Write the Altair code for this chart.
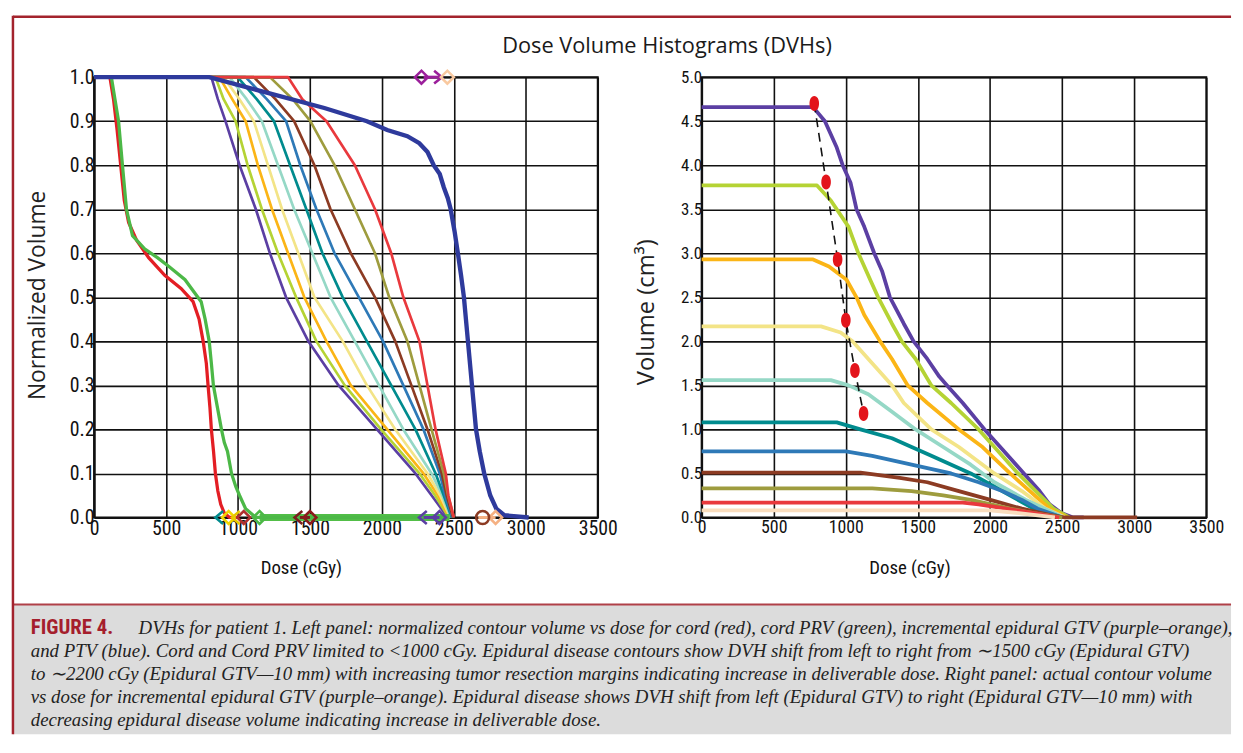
import altair as alt
import pandas as pd

# ---------------- data ----------------
gtv_names = ["Epidural GTV", "GTV−1 mm", "GTV−2 mm", "GTV−3 mm", "GTV−4 mm", "GTV−5 mm",
             "GTV−6 mm", "GTV−7 mm", "GTV−8 mm", "GTV−9 mm", "GTV−10 mm"]
gtv_colors = ["#5B3FA3", "#B5D334", "#FBB516", "#F3E487", "#95D8C6", "#008B8E",
              "#2E79B7", "#8C3B23", "#9E9C3E", "#E9393D", "#F9DDBE"]

# Left panel: normalized volume levels shared by the GTV curves
left_levels = [1.0, 1.0, 0.95, 0.9, 0.8, 0.7, 0.6, 0.5, 0.4, 0.3, 0.2, 0.1, 0.05, 0.0]
left_purple = [0, 815, 860, 913, 1011, 1124, 1222, 1334, 1489, 1699, 1966, 2233, 2346, 2458]
left_yellowgreen = [0, 843, 900, 983, 1067, 1166, 1278, 1404, 1545, 1742, 1994, 2261, 2370, 2465]
left_gold = [0, 871, 960, 1053, 1138, 1236, 1348, 1461, 1615, 1784, 2037, 2289, 2390, 2470]
left_paleyellow = [0, 899, 1010, 1110, 1208, 1306, 1419, 1531, 1728, 1896, 2093, 2317, 2405, 2475]
left_aqua = [0, 941, 1060, 1166, 1278, 1390, 1517, 1643, 1812, 1980, 2149, 2345, 2420, 2480]
left_teal = [0, 997, 1130, 1250, 1362, 1475, 1587, 1728, 1896, 2065, 2233, 2373, 2430, 2485]
left_steel = [0, 1053, 1200, 1334, 1433, 1545, 1671, 1840, 2008, 2149, 2289, 2402, 2440, 2490]
left_brown = [0, 1110, 1260, 1390, 1531, 1643, 1784, 1952, 2093, 2205, 2317, 2416, 2450, 2495]
left_olive = [0, 1222, 1380, 1503, 1671, 1812, 1952, 2051, 2177, 2261, 2345, 2430, 2460, 2500]
left_red = [0, 1348, 1447, 1615, 1812, 1952, 2065, 2149, 2261, 2317, 2373, 2444, 2462, 2500]

cord_dose = [0, 110, 135, 160, 185, 210, 240, 295, 379, 491, 604, 688, 730, 758, 780, 792,
             805, 815, 830, 843, 860, 880, 905, 941, 1000]
cord_vol = [1.0, 1.0, 0.95, 0.88, 0.8, 0.72, 0.67, 0.63, 0.59, 0.55, 0.52, 0.49, 0.45, 0.4,
            0.35, 0.3, 0.25, 0.2, 0.15, 0.1, 0.06, 0.03, 0.01, 0.0, 0.0]
prv_dose = [0, 120, 145, 170, 197, 225, 267, 351, 440, 520, 632, 744, 772, 800, 815, 829,
            857, 885, 905, 927, 955, 985, 1011, 1053, 1124, 2470]
prv_vol = [1.0, 1.0, 0.95, 0.9, 0.8, 0.7, 0.64, 0.61, 0.59, 0.57, 0.54, 0.49, 0.45, 0.4,
           0.35, 0.3, 0.25, 0.2, 0.17, 0.15, 0.1, 0.07, 0.05, 0.02, 0.0, 0.0]
ptv_dose = [0, 800, 1200, 1600, 1896, 2037, 2177, 2260, 2317, 2360, 2402, 2430, 2458, 2478,
            2505, 2528, 2550, 2570, 2584, 2598, 2626, 2654, 2680, 2711, 2753, 2795, 2851, 3020]
ptv_vol = [1.0, 1.0, 0.965, 0.93, 0.9, 0.88, 0.866, 0.85, 0.83, 0.8, 0.78, 0.75, 0.725, 0.7,
           0.65, 0.6, 0.55, 0.5, 0.45, 0.4, 0.3, 0.2, 0.15, 0.1, 0.05, 0.02, 0.005, 0.0]

# thick PRV band along zero and marker symbols on the left panel
band_start = [1150]
band_end = [2470]
shaft_start = [1430, 2290, 2290, 2670]
shaft_end = [1500, 2400, 2400, 2790]
shaft_vol = [0.0, 0.0, 1.0, 0.0]
shaft_color = ["#7A1E1E", "#5B3FA3", "#9B1F9B", "#F5B183"]
marker_dose = [870, 935, 985, 1040, 1150, 1420, 1500, 2285, 2400, 2790, 2700,
               2275, 2390, 2455]
marker_vol = [0.0, 0.0, 0.0, 0.0, 0.0, 0.0, 0.0, 0.0, 0.0, 0.0, 0.0, 1.0, 1.0, 1.0]
marker_shape = ["chev", "diamond", "chev", "diamond", "diamond", "chev", "diamond", "chev",
                "diamond", "diamond", "circle", "diamond", "chevr", "diamond"]
marker_color = ["#008B8E", "#F2D600", "#E8C800", "#B03030", "#4CB847", "#7A1E1E", "#8B1A1A",
                "#5B3FA3", "#5B3FA3", "#F5B183", "#8C3B23", "#9B1F9B", "#9B1F9B", "#F9C9A0"]

# Right panel: actual volume (cm3)
r_purple_dose = [0, 773, 855, 937, 978, 1033, 1074, 1128, 1197, 1251, 1306, 1402, 1470, 1565,
                 1648, 1702, 1811, 1962, 2071, 2235, 2344, 2413, 2495, 2576, 2650]
r_purple_vol = [4.66, 4.66, 4.5, 4.2, 4.0, 3.8, 3.5, 3.3, 3.0, 2.8, 2.5, 2.2, 2.0, 1.8, 1.6,
                1.5, 1.3, 1.0, 0.8, 0.5, 0.3, 0.15, 0.05, 0.0, 0.0]
r_yellowgreen_dose = [0, 800, 896, 1019, 1087, 1169, 1224, 1320, 1388, 1484, 1593, 1730, 1921,
                      2030, 2194, 2317, 2440, 2549]
r_yellowgreen_vol = [3.77, 3.77, 3.6, 3.3, 3.0, 2.7, 2.5, 2.2, 2.0, 1.8, 1.5, 1.3, 1.0, 0.8,
                     0.5, 0.3, 0.1, 0.0]
r_gold_dose = [0, 773, 883, 1005, 1074, 1128, 1238, 1320, 1429, 1565, 1784, 1948, 2139, 2276,
               2413, 2530]
r_gold_vol = [2.93, 2.93, 2.85, 2.7, 2.5, 2.3, 2.0, 1.8, 1.5, 1.3, 1.0, 0.8, 0.5, 0.3, 0.1, 0.0]
r_paleyellow_dose = [0, 828, 964, 1046, 1156, 1265, 1320, 1402, 1593, 1784, 2030, 2221, 2385, 2520]
r_paleyellow_vol = [2.17, 2.17, 2.1, 2.0, 1.8, 1.6, 1.5, 1.3, 1.0, 0.8, 0.5, 0.3, 0.1, 0.0]
r_aqua_dose = [0, 896, 1019, 1156, 1320, 1484, 1675, 1866, 2030, 2249, 2510]
r_aqua_vol = [1.56, 1.56, 1.5, 1.4, 1.2, 1.0, 0.8, 0.6, 0.4, 0.2, 0.0]
r_teal_dose = [0, 937, 1101, 1320, 1456, 1593, 1866, 2085, 2303, 2500]
r_teal_vol = [1.08, 1.08, 1.0, 0.9, 0.8, 0.7, 0.5, 0.3, 0.1, 0.0]
r_steel_dose = [0, 1000, 1183, 1456, 1730, 1921, 2085, 2221, 2331, 2500]
r_steel_vol = [0.75, 0.75, 0.7, 0.6, 0.5, 0.4, 0.3, 0.2, 0.1, 0.0]
r_brown_dose = [0, 1101, 1374, 1565, 1784, 2003, 2221, 2413, 2520, 3020]
r_brown_vol = [0.51, 0.51, 0.45, 0.4, 0.3, 0.2, 0.1, 0.03, 0.0, 0.0]
r_olive_dose = [0, 1183, 1456, 1675, 1866, 2139, 2303, 2500]
r_olive_vol = [0.33, 0.33, 0.3, 0.25, 0.2, 0.1, 0.05, 0.0]
r_red_dose = [0, 1811, 1921, 2112, 2303, 2480]
r_red_vol = [0.17, 0.17, 0.15, 0.1, 0.05, 0.0]
r_peach_dose = [0, 2000, 2200, 2450]
r_peach_vol = [0.08, 0.08, 0.05, 0.0]

dot_dose = [781, 863, 943, 1000, 1063, 1123]
dot_vol = [4.70, 3.81, 2.93, 2.24, 1.67, 1.18]

title_text = "Dose Volume Histograms (DVHs)"
caption_label = "FIGURE 4."
caption_first = ("DVHs for patient 1. Left panel: normalized contour volume vs dose for cord (red), "
                 "cord PRV (green), incremental epidural GTV (purple–orange),")
caption_rest = [
    "and PTV (blue). Cord and Cord PRV limited to <1000 cGy. Epidural disease contours show DVH shift from left to right from ∼1500 cGy (Epidural GTV)",
    "to ∼2200 cGy (Epidural GTV—10 mm) with increasing tumor resection margins indicating increase in deliverable dose. Right panel: actual contour volume",
    "vs dose for incremental epidural GTV (purple–orange). Epidural disease shows DVH shift from left (Epidural GTV) to right (Epidural GTV—10 mm) with",
    "decreasing epidural disease volume indicating increase in deliverable dose.",
]

# ---------------- helpers ----------------
def long_df(names, doses, vols):
    rows = []
    for n, d, v in zip(names, doses, vols):
        for i, (x, y) in enumerate(zip(d, v)):
            rows.append({"series": n, "dose": x, "vol": y, "i": i})
    return pd.DataFrame(rows)

NARROW = "Liberation Sans Narrow, Arial Narrow, Roboto Condensed, Liberation Sans, sans-serif"
HUMAN = "Open Sans, Lato, sans-serif"
RED = "#A3232D"

dose_ticks = [0, 500, 1000, 1500, 2000, 2500, 3000, 3500]


def x_enc(label_size, title_x, title_y):
    return alt.X("dose:Q", scale=alt.Scale(domain=[0, 3500], nice=False),
                 axis=alt.Axis(values=dose_ticks, format="d", title="Dose (cGy)", grid=True,
                               gridColor="#111111", gridWidth=1.6, domainColor="#111111",
                               domainWidth=2, ticks=False, labelFont=NARROW,
                               labelFontSize=label_size, labelColor="#111111", labelPadding=1,
                               labelFlush=False, titleFont=NARROW, titleFontSize=19,
                               titleFontWeight="normal", titleColor="#111111",
                               titleX=title_x, titleY=title_y, titleBaseline="middle"))


def y_enc(field, domain, values, title, label_size, title_size, title_x, title_y):
    return alt.Y(field, scale=alt.Scale(domain=domain, nice=False),
                 axis=alt.Axis(values=values, format=".1f", title=title, grid=True,
                               gridColor="#111111", gridWidth=1.6, domainColor="#111111",
                               domainWidth=2, ticks=False, labelFont=NARROW,
                               labelFontSize=label_size, labelColor="#111111", labelPadding=0,
                               labelFlush=False, titleFont=HUMAN, titleFontSize=title_size,
                               titleFontWeight="normal", titleColor="#222222",
                               titleX=title_x, titleY=title_y, titleAngle=270,
                               titleBaseline="middle", titleAlign="center"))


# ---------------- left panel ----------------
LX = x_enc(20, 209, 51)
LY = y_enc("vol:Q", [0, 1], [round(k * 0.1, 1) for k in range(11)],
           "Normalized Volume", 20, 23, -57, 220)

left_gtv = [left_purple, left_yellowgreen, left_gold, left_paleyellow, left_aqua,
            left_teal, left_steel, left_brown, left_olive, left_red]
gtv_left_df = long_df(gtv_names[:10], left_gtv, [left_levels] * 10)

gtv_left = alt.Chart(gtv_left_df).mark_line(strokeWidth=2.7, strokeJoin="round").encode(
    x=LX, y=LY,
    color=alt.Color("series:N", scale=alt.Scale(domain=gtv_names, range=gtv_colors), legend=None),
    order=alt.Order("i:Q"),
)
cord = alt.Chart(long_df(["Cord"], [cord_dose], [cord_vol])).mark_line(
    strokeWidth=3.3, color="#E31E24").encode(x=LX, y=LY, order=alt.Order("i:Q"))
prv = alt.Chart(long_df(["Cord PRV"], [prv_dose], [prv_vol])).mark_line(
    strokeWidth=3.3, color="#4CB847").encode(x=LX, y=LY, order=alt.Order("i:Q"))
ptv = alt.Chart(long_df(["PTV"], [ptv_dose], [ptv_vol])).mark_line(
    strokeWidth=4.4, color="#2E3A9C").encode(x=LX, y=LY, order=alt.Order("i:Q"))

band = alt.Chart(pd.DataFrame({"s": band_start, "e": band_end, "v": [0.0]})).mark_rule(
    strokeWidth=7, color="#52BE48").encode(x=alt.X("s:Q"), x2="e:Q", y=alt.Y("v:Q"))
shafts = alt.Chart(pd.DataFrame({"s": shaft_start, "e": shaft_end, "v": shaft_vol,
                                 "c": shaft_color})).mark_rule(strokeWidth=3).encode(
    x=alt.X("s:Q"), x2="e:Q", y=alt.Y("v:Q"),
    color=alt.Color("c:N", scale=None, legend=None))

chev = "M0.6,-1 L-0.6,0 L0.6,1"
chevr = "M-0.6,-1 L0.6,0 L-0.6,1"
shape_map = {"chev": chev, "chevr": chevr, "diamond": "diamond", "circle": "circle"}
markers_df = pd.DataFrame({"dose": marker_dose, "vol": marker_vol,
                           "shape": [shape_map[s] for s in marker_shape],
                           "c": marker_color})
markers = alt.Chart(markers_df).mark_point(filled=False, strokeWidth=2.6, size=170,
                                           opacity=1).encode(
    x=alt.X("dose:Q"), y=alt.Y("vol:Q"),
    shape=alt.Shape("shape:N", scale=None, legend=None),
    color=alt.Color("c:N", scale=None, legend=None),
)

# decoration: frame, figure title and caption (outside the plot area)
one = pd.DataFrame({"k": [0]})
cap_box = alt.Chart(one).mark_rect(fill="#DCDCDC").encode(
    x=alt.value(-82), x2=alt.value(1149), y=alt.value(533), y2=alt.value(664))
frame_top = alt.Chart(one).mark_rule(color=RED, strokeWidth=2.5).encode(
    x=alt.value(-82), x2=alt.value(1149), y=alt.value(-61))
frame_mid = alt.Chart(one).mark_rule(color="#B04048", strokeWidth=2).encode(
    x=alt.value(-82), x2=alt.value(1149), y=alt.value(533))
frame_left = alt.Chart(one).mark_rule(color=RED, strokeWidth=2.5).encode(
    x=alt.value(-82), y=alt.value(-62), y2=alt.value(664))
title = alt.Chart(one).mark_text(text=title_text, font=HUMAN, fontSize=22, color="#1a1a1a",
                                 align="center", baseline="middle").encode(
    x=alt.value(579), y=alt.value(-31))
cap_label = alt.Chart(one).mark_text(text=caption_label, font=NARROW, fontSize=21,
                                     fontWeight="bold", color="#A51E2D", align="left",
                                     baseline="alphabetic").encode(
    x=alt.value(-64), y=alt.value(563))
cap_first = alt.Chart(one).mark_text(text=caption_first, font="Liberation Serif",
                                     fontStyle="italic", fontSize=19, color="#222222",
                                     align="left", baseline="alphabetic").encode(
    x=alt.value(45), y=alt.value(563))
cap_rest = alt.Chart(one).mark_text(text="\n".join(caption_rest), lineBreak="\n",
                                    lineHeight=23.2, font="Liberation Serif",
                                    fontStyle="italic", fontSize=19, color="#222222",
                                    align="left", baseline="alphabetic").encode(
    x=alt.value(-64), y=alt.value(586))

left = alt.layer(cap_box, frame_top, frame_mid, frame_left, title, cap_label, cap_first,
                 cap_rest, gtv_left, cord, band, prv, ptv, shafts, markers).resolve_scale(
    color="independent", shape="independent").properties(width=509, height=445)

# ---------------- right panel ----------------
RX = x_enc(18, 210, 51)
RY = y_enc("vol:Q", [0, 5], [k * 0.5 for k in range(11)], "Volume (cm³)", 17, 24, -56, 237)

r_doses = [r_purple_dose, r_yellowgreen_dose, r_gold_dose, r_paleyellow_dose, r_aqua_dose,
           r_teal_dose, r_steel_dose, r_brown_dose, r_olive_dose, r_red_dose, r_peach_dose]
r_vols = [r_purple_vol, r_yellowgreen_vol, r_gold_vol, r_paleyellow_vol, r_aqua_vol,
          r_teal_vol, r_steel_vol, r_brown_vol, r_olive_vol, r_red_vol, r_peach_vol]
gtv_right_df = long_df(gtv_names, r_doses, r_vols)

gtv_right = alt.Chart(gtv_right_df).mark_line(strokeWidth=3.8, strokeJoin="round").encode(
    x=RX, y=RY,
    color=alt.Color("series:N", scale=alt.Scale(domain=gtv_names, range=gtv_colors), legend=None),
    order=alt.Order("i:Q"),
)
dots_df = pd.DataFrame({"dose": dot_dose, "vol": dot_vol})
dash = alt.Chart(dots_df).mark_line(color="#111111", strokeWidth=1.6,
                                    strokeDash=[9, 6]).encode(x=RX, y=RY)
ellipse = "M0,-1 C0.85,-1 0.85,1 0,1 C-0.85,1 -0.85,-1 0,-1 Z"
dots = alt.Chart(dots_df).mark_point(shape=ellipse, filled=True, color="#E3141B", size=230,
                                     opacity=1).encode(x=RX, y=RY)

right = alt.layer(gtv_right, dash, dots).properties(width=510, height=445)

chart = alt.hconcat(left, right, spacing=105, bounds="flush").properties(
    padding={"left": 2, "top": 1, "right": 0, "bottom": 0},
    background="white",
).configure_view(stroke="#111111", strokeWidth=2).configure_legend(disable=True)

chart.save("out.html", embed_options={"renderer": "svg", "actions": False})
